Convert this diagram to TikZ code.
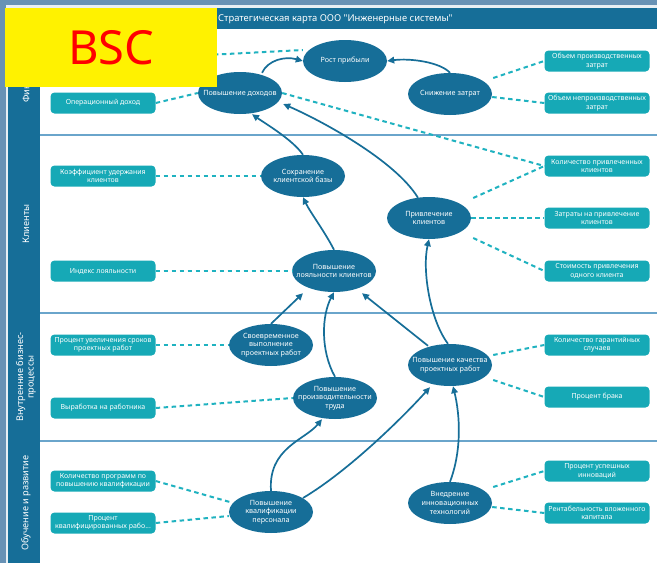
\documentclass[tikz,border=0pt]{standalone}
\usepackage{fontspec}
\setmainfont{Noto Sans}
\newfontfamily\titlefont[Ligatures=TeXOff]{Noto Sans}
\usetikzlibrary{arrows.meta,calc,shapes.geometric}
\definecolor{bgc}{HTML}{6892B5}
\definecolor{dkb}{HTML}{166E98}
\definecolor{tealb}{HTML}{16A9B6}
\definecolor{dashc}{HTML}{1FB2C0}
\definecolor{sepc}{HTML}{6AA5CB}
\begin{document}
\begin{tikzpicture}[x=1pt,y=-1pt,
  goal/.style={ellipse, fill=dkb, minimum width=84pt, minimum height=42pt, inner sep=0pt},
  glabel/.style={text=white, align=center, inner sep=0pt, font=\fontsize{7.2}{8.7}\selectfont},
  kpi/.style={rectangle, rounded corners=4pt, fill=tealb, minimum width=105pt, minimum height=21pt, inner sep=1pt, align=center, text=white, font=\fontsize{7}{8.3}\selectfont},
  dashln/.style={dashc, line width=2pt, dash pattern=on 4.5pt off 3.5pt},
  arr/.style={dkb, line width=1.7pt, -{Triangle[length=7pt,width=6.5pt]}},
  sepline/.style={sepc, line width=1.2pt},
  side/.style={rotate=90, text=white, align=center, font=\fontsize{9.2}{10.5}\selectfont}
]
\useasboundingbox (0,0) rectangle (657,563);
% frame
\fill[bgc] (0,0) rectangle (657,563);
\fill[white!85!bgc] (6,5) rectangle (657,563);
\fill[white] (8,8) rectangle (657,563);
\fill[dkb] (8,8) rectangle (40,563);
\fill[dkb] (8,8) rectangle (657,29);
\draw[sepline] (40,135) -- (657,135);
\draw[sepline] (40,313) -- (657,313);
\draw[sepline] (40,441) -- (657,441);

% title and side labels
\node[anchor=west, text=white, inner sep=0pt, font=\titlefont\fontsize{9.4}{10}\selectfont] (title) at (218,19) {Стратегическая карта ООО "Инженерные системы"};
\node[side] (sfin) at (26,82) {Финансы};
\node[side] (skli) at (26,224) {Клиенты};
\node[side] (sbiz) at (26,377) {Внутренние бизнес-\\процессы};
\node[side] (sobu) at (26,503) {Обучение и развитие};

% goals
\node[goal, label={[glabel]center:Рост прибыли}] (rp) at (345,61) {};
\node[goal, label={[glabel]center:Повышение доходов}] (pd) at (240,93) {};
\node[goal, label={[glabel]center:Снижение затрат}] (sz) at (450,94) {};
\node[goal, label={[glabel]center:{Сохранение\\клиентской базы}}] (sk) at (303,176) {};
\node[goal, label={[glabel]center:{Привлечение\\клиентов}}] (pk) at (429,218) {};
\node[goal, label={[glabel]center:{Повышение\\лояльности клиентов}}] (pl) at (334,271) {};
\node[goal, label={[glabel]center:{Своевременное\\выполнение\\проектных работ}}] (sv) at (271,345) {};
\node[goal, label={[glabel]center:{Повышение\\производительности\\труда}}] (pp) at (335,398) {};
\node[goal, label={[glabel]center:{Повышение качества\\проектных работ}}] (pq) at (450,365) {};
\node[goal, label={[glabel]center:{Повышение\\квалификации\\персонала}}] (pkv) at (271,512) {};
\node[goal, label={[glabel]center:{Внедрение\\инновационных\\технологий}}] (vn) at (450,503) {};

% KPIs left
\node[kpi] (op) at (103,103) {Операционный доход};
\node[kpi] (kuk) at (103,176) {Коэффициент удержания\\клиентов};
\node[kpi] (il) at (103,271) {Индекс лояльности};
\node[kpi] (pus) at (103,345) {Процент увеличения сроков\\проектных работ};
\node[kpi] (vr) at (103,408) {Выработка на работника};
\node[kpi] (kpp) at (103,481) {Количество программ по\\повышению квалификации};
\node[kpi] (pkr) at (103,523) {Процент\\квалифицированных рабо...};
% KPIs right
\node[kpi] (opz) at (597,61) {Объем производственных\\затрат};
\node[kpi] (onz) at (597,103) {Объем непроизводственных\\затрат};
\node[kpi] (kpc) at (597,166) {Количество привлеченных\\клиентов};
\node[kpi] (zpk) at (597,218) {Затраты на привлечение\\клиентов};
\node[kpi] (spk) at (597,271) {Стоимость привлечения\\одного клиента};
\node[kpi] (kgs) at (597,345) {Количество гарантийных\\случаев};
\node[kpi] (pbr) at (597,397) {Процент брака};
\node[kpi] (pui) at (597,471) {Процент успешных\\инноваций};
\node[kpi] (rvk) at (597,513) {Рентабельность вложенного\\капитала};

% dashed KPI links
\coordinate (hid) at (150,58);
\draw[dashln] (hid) -- ($(rp.west)+(0,-11)$);
\draw[dashln] (op.east) -- (pd.west);
\draw[dashln] (pd.east) -- (kpc.west);
\draw[dashln] ($(sz.east)+(1,-16)$) -- (opz.west);
\draw[dashln] ($(sz.east)+(0,3)$) -- (onz.west);
\draw[dashln] (kuk.east) -- (sk.west);
\draw[dashln] ($(pk.east)+(2,-20)$) -- (kpc.west);
\draw[dashln] (pk.east) -- (zpk.west);
\draw[dashln] ($(pk.east)+(2,20)$) -- (spk.west);
\draw[dashln] (il.east) -- (pl.west);
\draw[dashln] (pus.east) -- (sv.west);
\draw[dashln] (vr.east) -- (pp.west);
\draw[dashln] ($(pq.east)+(1,-10)$) -- (kgs.west);
\draw[dashln] ($(pq.east)+(1,15)$) -- (pbr.west);
\draw[dashln] (kpp.east) -- ($(pkv.west)+(1,-10)$);
\draw[dashln] (pkr.east) -- ($(pkv.west)+(0,4)$);
\draw[dashln] ($(vn.east)+(1,-16)$) -- (pui.west);
\draw[dashln] ($(vn.east)+(0,4)$) -- (rvk.west);

% causal arrows
\draw[arr] ($(pd.north)+(22,1)$) .. controls (268,60) and (285,56) .. (rp.west);
\draw[arr] (sz.north) .. controls (440,62) and (410,58) .. (rp.east);
\draw[arr] (sk.north) .. controls (293,140) and (266,124) .. ($(pd.south)+(12,0)$);
\draw[arr] ($(pk.north)+(-11,1)$) .. controls (395,160) and (320,120) .. ($(pd.east)+(1,11)$);
\draw[arr] (pl.north) .. controls (325,232) and (310,212) .. (sk.south);
\draw[arr] ($(pq.north)+(-2,0)$) .. controls (430,320) and (422,270) .. (pk.south);
\draw[arr] (sv.north) -- ($(pl.south)+(-31,1)$);
\draw[arr] (pp.north) .. controls (320,350) and (322,315) .. (pl.south);
\draw[arr] ($(pq.north)+(-22,2)$) -- ($(pl.south)+(28,1)$);
\draw[arr] (pkv.north) .. controls (268,448) and (305,440) .. ($(pp.south)+(-13,0)$);
\draw[arr] ($(pkv.center)+(32,-14)$) .. controls (350,470) and (405,415) .. ($(pq.south)+(-20,1)$);
\draw[arr] (vn.north) .. controls (462,450) and (460,415) .. ($(pq.south)+(3,0)$);

% overlay box
\node[fill=yellow, minimum width=212pt, minimum height=79pt, inner sep=0pt, anchor=north west, text=red, font=\fontsize{47}{50}\selectfont] (bsc) at (5,8) {BSC};
\end{tikzpicture}
\end{document}
